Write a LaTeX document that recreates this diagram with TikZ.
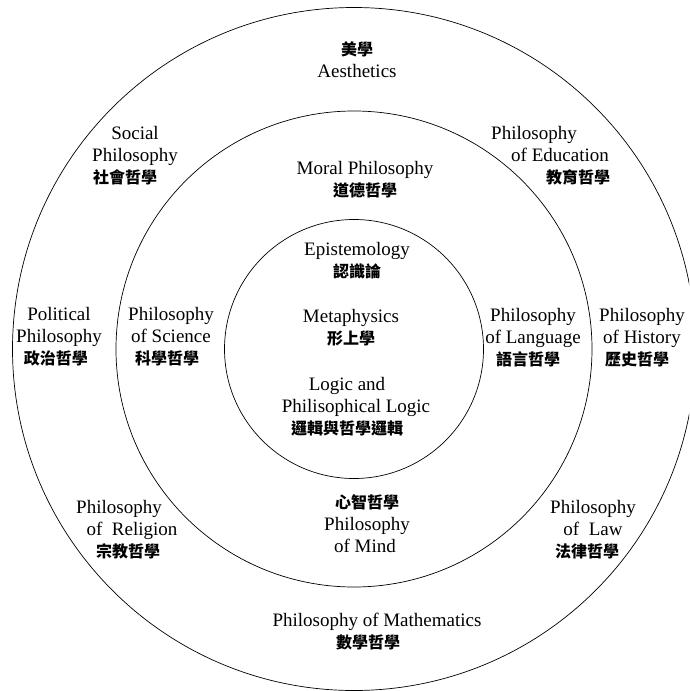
\documentclass[tikz,border=0pt]{standalone}
\usepackage{fontspec}
\setmainfont{Liberation Serif}
\newfontfamily\cjk{Noto Sans CJK TC}
\newcommand{\zh}[1]{{\cjk\bfseries\fontsize{16}{22}\selectfont #1}}

\begin{document}
\begin{tikzpicture}[x = 1pt, y = -1pt, line width = 0.7pt]
	\tikzstyle{topic} = [align = center, inner sep = 0.5pt, font = \fontsize{19}{22}\selectfont]
	\useasboundingbox (0,0) rectangle (689,691);
	\clip (0,0) rectangle (689,691);
	% rings
	\draw (354,349) circle [radius = 341.5pt];
	\draw (354,349) circle [radius = 238pt];
	\draw (354,349) circle [radius = 129.5pt];
	% inner ring
	\node [topic] (epi) at (357,261) {Epistemology\\ \zh{認識論}};
	\node [topic] (met) at (351,328) {Metaphysics\\ \zh{形上學}};
	\node [topic] (log) at (356,407) {Logic and\hspace*{18pt}\\ Philisophical Logic\\ \zh{邏輯與哲學邏輯}\hspace*{18pt}};
	% middle ring
	\node [topic] (mor) at (365,180) {Moral Philosophy\\ \zh{道德哲學}};
	\node [topic] (sci) at (171,337) {Philosophy\\ of Science\\ \zh{科學哲學}\hspace*{8pt}};
	\node [topic] (lan) at (533,338) {Philosophy\\ of Language\\ \zh{語言哲學}\hspace*{10pt}};
	\node [topic] (min) at (367,524) {\zh{心智哲學}\\ Philosophy\\ of Mind\hspace*{4pt}};
	% outer ring
	\node [topic] (aes) at (357,60) {\zh{美學}\\ Aesthetics};
	\node [topic] (soc) at (135,156) {Social\\ Philosophy\\ \zh{社會哲學}\hspace*{20pt}};
	\node [topic] (edu) at (556,156) {Philosophy\hspace*{44pt}\\ \hspace*{8pt}of Education\\ \hspace*{44pt}\zh{教育哲學}};
	\node [topic] (pol) at (59,337) {Political\\ Philosophy\\ \zh{政治哲學}\hspace*{6pt}};
	\node [topic] (his) at (642,338) {Philosophy\\ of History\\ \zh{歷史哲學}\hspace*{10pt}};
	\node [topic] (rel) at (128,530) {Philosophy\hspace*{18pt}\\ \hspace*{8pt}of \ Religion\\ \zh{宗教哲學}};
	\node [topic] (law) at (593,530) {Philosophy\\ of \ Law\\ \zh{法律哲學}\hspace*{12pt}};
	\node [topic] (mat) at (377,632) {Philosophy of Mathematics\\ \zh{數學哲學}\hspace*{18pt}};
\end{tikzpicture}
\end{document}
